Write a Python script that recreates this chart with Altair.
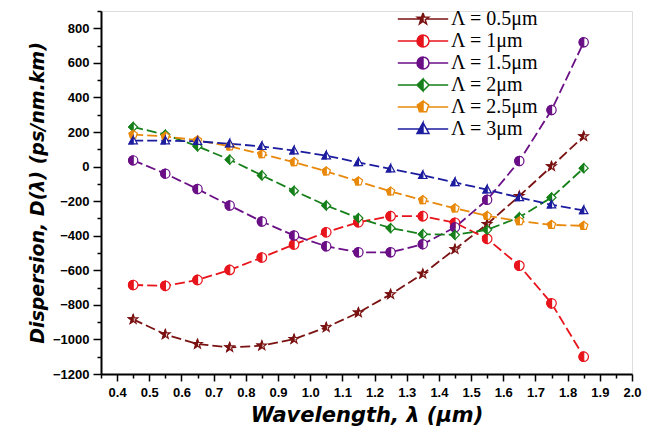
import altair as alt
import pandas as pd

# ---------------- data ----------------
wavelength = [0.45, 0.55, 0.65, 0.75, 0.85, 0.95, 1.05, 1.15, 1.25, 1.35, 1.45, 1.55, 1.65, 1.75, 1.85]

series_names = ["Λ = 0.5μm", "Λ = 1μm", "Λ = 1.5μm", "Λ = 2μm", "Λ = 2.5μm", "Λ = 3μm"]

d_05 = [-884, -971, -1027, -1046, -1036, -998, -930, -845, -739, -621, -478, -333, -170, 1, 175]
d_10 = [-685, -690, -656, -598, -526, -451, -380, -322, -287, -287, -325, -418, -573, -791, -1100]
d_15 = [36, -41, -130, -225, -318, -399, -461, -496, -496, -449, -351, -192, 32, 327, 719]
d_20 = [229, 185, 117, 40, -51, -140, -225, -298, -356, -391, -395, -366, -293, -179, -9]
d_25 = [185, 175, 152, 117, 72, 26, -28, -86, -144, -194, -242, -285, -316, -337, -343]
d_30 = [150, 150, 146, 132, 117, 92, 63, 24, -13, -51, -92, -134, -179, -221, -254]

all_series = [d_05, d_10, d_15, d_20, d_25, d_30]

x_ticks = [round(0.35 + 0.05 * i, 2) for i in range(34)]   # 0.35 ... 2.00
y_ticks = list(range(-1200, 1000, 100))                      # -1200 ... 900

colors = ["#7a1212", "#e8141c", "#6a0f86", "#16801a", "#e8890c", "#1c1c9e"]

rows = []
for name, vals in zip(series_names, all_series):
    for x, y in zip(wavelength, vals):
        rows.append({"series": name, "wl": x, "D": y})
df = pd.DataFrame(rows)

# ---------------- marker shapes (unit paths) ----------------
def fmt(p):
    return f"{p[0]:.3f},{p[1]:.3f}"

def poly_paths(right_pts, stub):
    left_pts = [(-x, y) for x, y in right_pts]
    full = "M" + " L".join(fmt(p) for p in right_pts + left_pts[::-1][:-1]) + " Z"
    half = "M" + " L".join(fmt(p) for p in left_pts) + " Z"
    retrace = right_pts + right_pts[-2:0:-1]
    outline = "M" + " L".join(fmt(p) for p in retrace) + " Z"
    stubs = f"M-4.2,0 L-{stub},0 L-4.2,0 Z M{stub},0 L4.2,0 L{stub},0 Z"
    return full, half, half + " " + outline + " " + stubs

star_r = [(0, -1), (0.235, -0.324), (0.951, -0.309), (0.380, 0.124), (0.588, 0.809), (0, 0.4)]
diam_r = [(0, -1), (1, 0), (0, 1)]
tri_r = [(0, -1.05), (1.0, 0.75), (0, 0.75)]
pent_r = [(0, -1), (0.951, -0.309), (0.588, 0.809), (0, 0.809)]

star = poly_paths(star_r, 0.55)
diam = poly_paths(diam_r, 1.0)
tri = poly_paths(tri_r, 0.57)
pent = poly_paths(pent_r, 0.85)
circ_full = "circle"
circ_half = "M0,-1 A1,1 0 0,0 0,1 Z"
circ_leg = circ_half + " M0,-1 A1,1 0 0,1 0,1 A1,1 0 0,0 0,-1 Z M-4.2,0 L-1,0 L-4.2,0 Z M1,0 L4.2,0 L1,0 Z"

full_shapes = [star[0], circ_full, circ_full, diam[0], pent[0], tri[0]]
half_shapes = [star[1], circ_half, circ_half, diam[1], pent[1], tri[1]]
legend_shapes = [star[2], circ_leg, circ_leg, diam[2], pent[2], tri[2]]
marker_sizes = [95, 70, 70, 80, 75, 90]

# ---------------- encodings ----------------
x_enc = alt.X(
    "wl:Q",
    scale=alt.Scale(domain=[0.35, 2.0], nice=False, zero=False),
    axis=alt.Axis(
        title="Wavelength, λ (μm)",
        values=x_ticks,
        labelExpr="abs(datum.value*10 - round(datum.value*10)) < 0.01 ? format(datum.value, '.1f') : ''",
        tickSize={"condition": {"test": "abs(datum.value*10 - round(datum.value*10)) < 0.01", "value": 7}, "value": 4},
        grid=False,
        domainColor="black", domainWidth=2,
        tickColor="black", tickWidth=1.5,
        labelFont="Liberation Sans", labelFontWeight="bold", labelFontSize=13, labelColor="black",
        labelPadding=5, labelFlush=False, labelOverlap=False,
        titleFont="DejaVu Sans", titleFontStyle="italic", titleFontWeight="bold", titleFontSize=21,
        titleColor="black", titlePadding=5,
    ),
)
y_enc = alt.Y(
    "D:Q",
    scale=alt.Scale(domain=[-1200, 900], nice=False, zero=False),
    axis=alt.Axis(
        title="Dispersion, D(λ) (ps/nm.km)",
        values=y_ticks,
        labelExpr="datum.value % 200 === 0 && datum.value <= 800 ? format(datum.value, 'd') : ''",
        tickSize={"condition": {"test": "datum.value % 200 === 0", "value": 8}, "value": 4},
        grid=False,
        domainColor="black", domainWidth=2,
        tickColor="black", tickWidth=1.5,
        labelFont="Liberation Sans", labelFontWeight="bold", labelFontSize=13, labelColor="black",
        labelPadding=4, labelFlush=False, labelOverlap=False,
        titleFont="DejaVu Sans", titleFontStyle="italic", titleFontWeight="bold", titleFontSize=19,
        titleColor="black", titlePadding=5,
    ),
)

def cscale(rng):
    return alt.Scale(domain=series_names, range=rng)

base = alt.Chart(df)

lines = base.mark_line(strokeDash=[10, 4], strokeWidth=1.8).encode(
    x=x_enc, y=y_enc,
    stroke=alt.Stroke("series:N", scale=cscale(colors), legend=None, sort=series_names),
)

white_pts = base.mark_point(filled=True, fill="white", strokeWidth=1.2, opacity=1).encode(
    x=x_enc, y=y_enc,
    stroke=alt.Stroke("series:N", scale=cscale(colors), legend=None),
    shape=alt.Shape("series:N", scale=cscale(full_shapes), legend=None),
    size=alt.Size("series:N", scale=cscale(marker_sizes), legend=None),
)

half_pts = base.mark_point(filled=True, strokeWidth=1.2, opacity=1).encode(
    x=x_enc, y=y_enc,
    fill=alt.Fill("series:N", scale=cscale(colors), legend=None),
    stroke=alt.Stroke("series:N", scale=cscale(colors), legend=None),
    shape=alt.Shape("series:N", scale=cscale(half_shapes), legend=None),
    size=alt.Size("series:N", scale=cscale(marker_sizes), legend=None),
)

leg = alt.Legend(
    title=None, orient="none", legendX=312, legendY=-2,
    symbolSize=144, symbolStrokeWidth=1.5, symbolOpacity=1,
    labelFont="Liberation Serif", labelFontSize=20, labelColor="black",
    labelOffset=18, rowPadding=2, padding=0, labelLimit=200,
)

legend_layer = base.mark_point(filled=True, size=85, opacity=0).encode(
    x=x_enc, y=y_enc,
    fill=alt.Fill("series:N", scale=cscale(colors), legend=leg),
    stroke=alt.Stroke("series:N", scale=cscale(colors), legend=leg),
    shape=alt.Shape("series:N", scale=cscale(legend_shapes), legend=leg),
)

chart = alt.layer(lines, white_pts, half_pts, legend_layer).resolve_scale(
    shape="independent", fill="independent", stroke="independent", size="independent"
).properties(
    width=531, height=363,
    autosize=alt.AutoSizeParams(type="none"),
    padding={"left": 93, "top": 3, "right": 10, "bottom": 54},
).configure_view(stroke=None).configure(background="white")

chart.save("out.html", embed_options={"renderer": "svg", "actions": False})
